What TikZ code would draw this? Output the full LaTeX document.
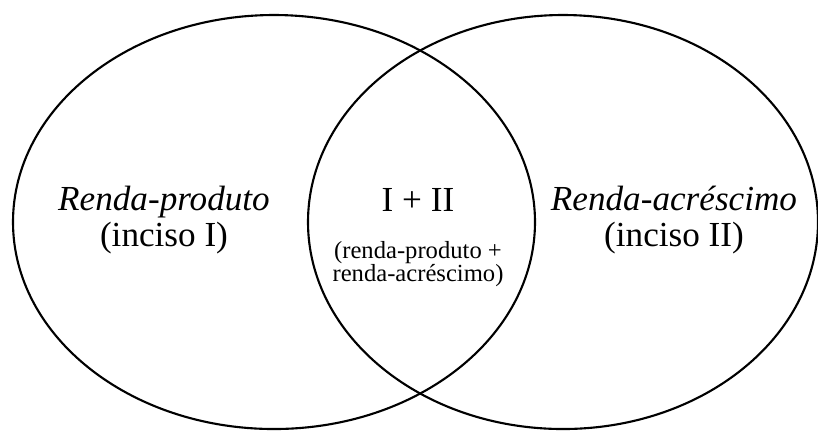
\documentclass[tikz,border=0pt]{standalone}
\usepackage{fontspec}
\setmainfont{Liberation Serif}
\usetikzlibrary{positioning}

\begin{document}
\begin{tikzpicture}[x=0.01cm,y=-0.01cm,line join=round,line cap=round,
	conj/.style={line width=0.6pt},
	rotulo/.style={align=center,font=\fontsize{10}{10.2}\selectfont,inner sep=0pt},
	nota/.style={align=center,font=\fontsize{7}{6.6}\selectfont,inner sep=0pt}]
	\useasboundingbox (0,0) rectangle (818,432);
	\coordinate (A) at (274,222);
	\coordinate (B) at (563,222);
	\draw[conj] (A) ellipse [x radius=261, y radius=207];
	\draw[conj] (B) ellipse [x radius=255, y radius=207];
	\node[rotulo] (RP) at (164,220) {\textit{Renda-produto}\\(inciso I)};
	\node[rotulo] (RA) at (674,220) {\textit{Renda-acréscimo}\\(inciso II)};
	\node[rotulo] (I) at (418,200) {I + II};
	\node[nota] (S) at (418,264) {(renda-produto +\\renda-acréscimo)};
\end{tikzpicture}
\end{document}
